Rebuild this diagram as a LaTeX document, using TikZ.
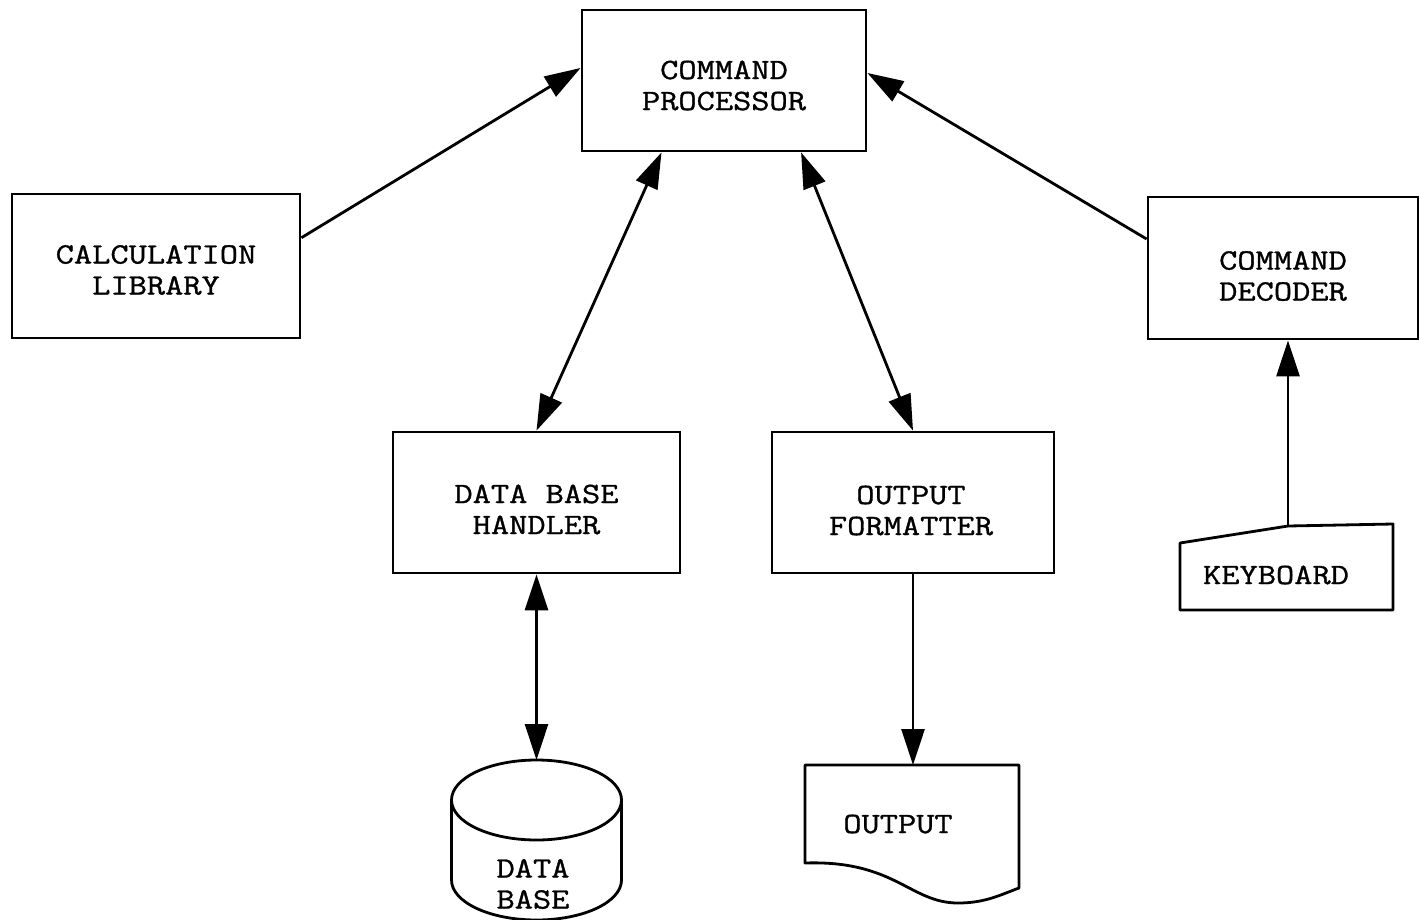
\documentclass[tikz,border=0pt]{standalone}
\usepackage{fontspec}
\setmonofont[FakeStretch=1.2,FakeBold=1.1]{Latin Modern Mono}
\usetikzlibrary{arrows.meta}

\begin{document}
\begin{tikzpicture}[x=1pt,y=-1pt]
    \tikzstyle{every node}=[font=\ttfamily\fontsize{29.5}{31}\selectfont,align=center,inner sep=0]
    \tikzstyle{box}=[draw=black,line width=2.8,rectangle]
    \tikzstyle{outline}=[draw=black,line width=2.8,line join=round]
    \tikzstyle{link}=[line width=2.8,>={Triangle[length=36pt,width=23pt]}]
    \useasboundingbox (0,0) rectangle (1419,919);

    % processing boxes, text set a little below centre
    \node[box,minimum width=284,minimum height=141,
        label={[yshift=-5]center:COMMAND\\PROCESSOR}] (proc) at (724,80.5) {};
    \node[box,minimum width=288,minimum height=144,
        label={[yshift=-4]center:CALCULATION\\LIBRARY}] (calc) at (156,266) {};
    \node[box,minimum width=270,minimum height=142,
        label={[yshift=-8]center:COMMAND\\DECODER}] (dec) at (1283,268) {};
    \node[box,minimum width=287,minimum height=141,
        label={[yshift=-7]center:DATA BASE\\HANDLER}] (dbh) at (536.5,502.5) {};
    \node[box,minimum width=282,minimum height=141,
        label={[yshift=-8,xshift=-2]center:OUTPUT\\FORMATTER}] (fmt) at (913,502.5) {};

    % keyboard
    \draw[outline] (1180,543) -- (1288,526) -- (1393,524) -- (1393,610) -- (1180,610) -- cycle;
    \coordinate (kbtop) at (1288,526);
    \node (kb) at (1276,575) {KEYBOARD};

    % disk
    \draw[outline] (451.5,800) -- (451.5,880) arc[start angle=180,end angle=0,x radius=85,y radius=40] -- (621.5,800);
    \draw[outline] (536.5,800) ellipse [x radius=85,y radius=40];
    \coordinate (dbtop) at (536.5,760);
    \node (db) at (533,884) {DATA\\BASE};

    % printed output
    \draw[outline] (805,765) -- (1019,765) -- (1019,888)
        .. controls (1000,895) and (985,903) .. (958,903)
        .. controls (910,903) and (895,860) .. (805,863) -- cycle;
    \coordinate (outtop) at (913,765);
    \node (out) at (898,824) {OUTPUT};

    % data flow
    \draw[link,->] (calc.11) -- (proc.175);
    \draw[link,->] (dec.168) -- (proc.3);
    \draw[link,<->] (proc.229) -- (dbh.north);
    \draw[link,<->] (proc.-43) -- (fmt.north);
    \draw[link,<->] (dbh.south) -- (dbtop);
    \draw[link,->] (fmt.south) -- (outtop);
    \draw[link,->] (kbtop) -- (kbtop |- dec.south);
\end{tikzpicture}
\end{document}
